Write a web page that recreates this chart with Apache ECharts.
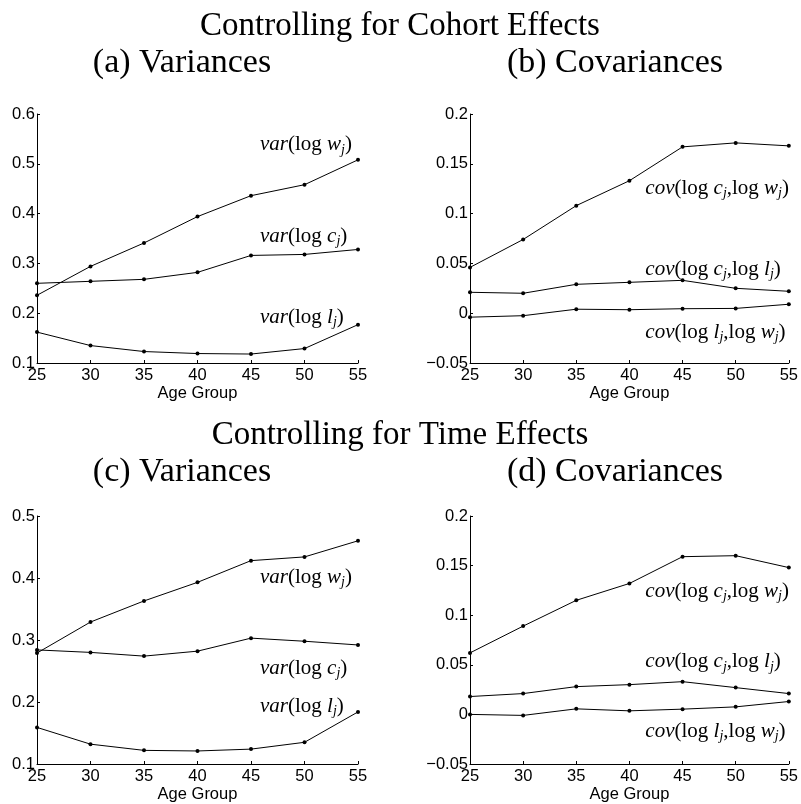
<!DOCTYPE html>
<html>
<head>
<meta charset="utf-8">
<script src="https://cdn.jsdelivr.net/npm/echarts@6/dist/echarts.min.js"></script>
<style>
  html, body { margin: 0; padding: 0; background: #fff; }
  #main { width: 801px; height: 804px; }
</style>
</head>
<body>
<div id="main"></div>
<script>
// Age groups on the horizontal axis
const ages = [25, 30, 35, 40, 45, 50, 55];

// Controlling for cohort effects: variances
const cohortVarW = [0.236, 0.294, 0.341, 0.394, 0.436, 0.458, 0.508];
const cohortVarC = [0.260, 0.264, 0.268, 0.282, 0.316, 0.318, 0.328];
const cohortVarL = [0.162, 0.135, 0.123, 0.119, 0.118, 0.129, 0.177];
// Controlling for cohort effects: covariances
const cohortCovCW = [0.046, 0.074, 0.108, 0.133, 0.167, 0.171, 0.168];
const cohortCovCL = [0.021, 0.020, 0.029, 0.031, 0.033, 0.025, 0.022];
const cohortCovLW = [-0.004, -0.0025, 0.004, 0.0035, 0.0045, 0.0048, 0.009];

// Controlling for time effects: variances
const timeVarW = [0.279, 0.329, 0.363, 0.393, 0.428, 0.434, 0.460];
const timeVarC = [0.284, 0.280, 0.274, 0.282, 0.303, 0.298, 0.292];
const timeVarL = [0.159, 0.132, 0.122, 0.121, 0.124, 0.135, 0.184];
// Controlling for time effects: covariances
const timeCovCW = [0.062, 0.089, 0.115, 0.132, 0.159, 0.160, 0.148];
const timeCovCL = [0.018, 0.021, 0.028, 0.030, 0.033, 0.027, 0.021];
const timeCovLW = [0.000, -0.001, 0.0056, 0.0036, 0.0053, 0.0076, 0.013];

// Axis ranges
const xTicks = { min: 25, max: 55, interval: 5 };
const varAxisA = { min: 0.1, max: 0.6, interval: 0.1 };
const covAxis = { min: -0.05, max: 0.2, interval: 0.05 };
const varAxisC = { min: 0.1, max: 0.5, interval: 0.1 };

// Math-style label pieces
const MATH = '"Liberation Serif", "DejaVu Serif", serif';
const rich = {
  it: { fontFamily: MATH, fontStyle: 'italic', fontSize: 21, color: '#000', lineHeight: 24 },
  rm: { fontFamily: MATH, fontSize: 21, color: '#000', lineHeight: 24 },
  sub: { fontFamily: MATH, fontStyle: 'italic', fontSize: 14, color: '#000', lineHeight: 11, verticalAlign: 'bottom' }
};
const varText = v => `{it|var}{rm|(log }{it|${v}}{sub|j}{rm|)}`;
const covText = (a, b) => `{it|cov}{rm|(log }{it|${a}}{sub|j}{rm|,log }{it|${b}}{sub|j}{rm|)}`;

const grids = [
  { left: 37, top: 114, width: 321, height: 249 },
  { left: 470, top: 114, width: 321, height: 249 },
  { left: 37, top: 516, width: 321, height: 250 },
  { left: 470, top: 516, width: 321, height: 250 }
];

const fmt = v => {
  const s = String(Number(v.toFixed(3)));
  return s.replace('-', '\u2212');
};

const xAxes = grids.map((g, i) => ({
  type: 'value', gridIndex: i,
  min: xTicks.min, max: xTicks.max, interval: xTicks.interval,
  name: 'Age Group', nameLocation: 'middle', nameGap: 22,
  nameTextStyle: { fontFamily: 'Liberation Sans', fontSize: 16.5, color: '#000' },
  axisLine: { show: true, onZero: false, lineStyle: { color: '#000', width: 1 } },
  axisTick: { show: true, inside: true, length: 3, lineStyle: { color: '#000' } },
  axisLabel: { fontFamily: 'Liberation Sans', fontSize: 16.5, color: '#000', margin: 4 },
  splitLine: { show: false }
}));

const yRanges = [varAxisA, covAxis, varAxisC, covAxis];
const yAxes = yRanges.map((r, i) => ({
  type: 'value', gridIndex: i,
  min: r.min, max: r.max, interval: r.interval,
  axisLine: { show: true, onZero: false, lineStyle: { color: '#000', width: 1 } },
  axisTick: { show: true, inside: true, length: 3, lineStyle: { color: '#000' } },
  axisLabel: { fontFamily: 'Liberation Sans', fontSize: 16.5, color: '#000', margin: 2, formatter: fmt },
  splitLine: { show: false }
}));

// Text anchors (data coordinates) for the curve captions
const captionAt = {
  a: [[45.84, 0.538], [45.84, 0.355], [45.84, 0.192]],
  b: [[41.5, 0.125], [41.5, 0.044], [41.5, -0.019]],
  c: [[45.84, 0.401], [45.84, 0.254], [45.84, 0.193]],
  d: [[41.5, 0.124], [41.5, 0.053], [41.5, -0.017]]
};

function line(idx, values, caption, at) {
  return {
    type: 'line', xAxisIndex: idx, yAxisIndex: idx,
    data: ages.map((a, k) => [a, values[k]]),
    symbol: 'circle', symbolSize: 4,
    itemStyle: { color: '#000' },
    lineStyle: { color: '#000', width: 1 },
    animation: false,
    markPoint: {
      symbol: 'circle', symbolSize: 0, animation: false,
      data: [{ coord: at }],
      label: { show: true, position: 'right', distance: 0, formatter: caption, rich: rich }
    }
  };
}

const series = [
  line(0, cohortVarW, varText('w'), captionAt.a[0]),
  line(0, cohortVarC, varText('c'), captionAt.a[1]),
  line(0, cohortVarL, varText('l'), captionAt.a[2]),
  line(1, cohortCovCW, covText('c', 'w'), captionAt.b[0]),
  line(1, cohortCovCL, covText('c', 'l'), captionAt.b[1]),
  line(1, cohortCovLW, covText('l', 'w'), captionAt.b[2]),
  line(2, timeVarW, varText('w'), captionAt.c[0]),
  line(2, timeVarC, varText('c'), captionAt.c[1]),
  line(2, timeVarL, varText('l'), captionAt.c[2]),
  line(3, timeCovCW, covText('c', 'w'), captionAt.d[0]),
  line(3, timeCovCL, covText('c', 'l'), captionAt.d[1]),
  line(3, timeCovLW, covText('l', 'w'), captionAt.d[2])
];

const HEAD = '"Liberation Serif", serif';
const heading = (text, x, y, size) => ({
  type: 'text', x: x, y: y,
  style: { text: text, font: `${size}px ${HEAD}`, fill: '#000', textAlign: 'center', textVerticalAlign: 'middle' }
});

const chart = echarts.init(document.getElementById('main'), null, { renderer: 'canvas' });
chart.setOption({
  animation: false,
  grid: grids,
  xAxis: xAxes,
  yAxis: yAxes,
  series: series,
  graphic: [
    heading('Controlling for Cohort Effects', 400, 26, 33),
    heading('(a) Variances', 182, 63, 34),
    heading('(b) Covariances', 615, 63, 34),
    heading('Controlling for Time Effects', 400, 435, 33),
    heading('(c) Variances', 182, 472, 34),
    heading('(d) Covariances', 615, 472, 34)
  ]
});
</script>
</body>
</html>
